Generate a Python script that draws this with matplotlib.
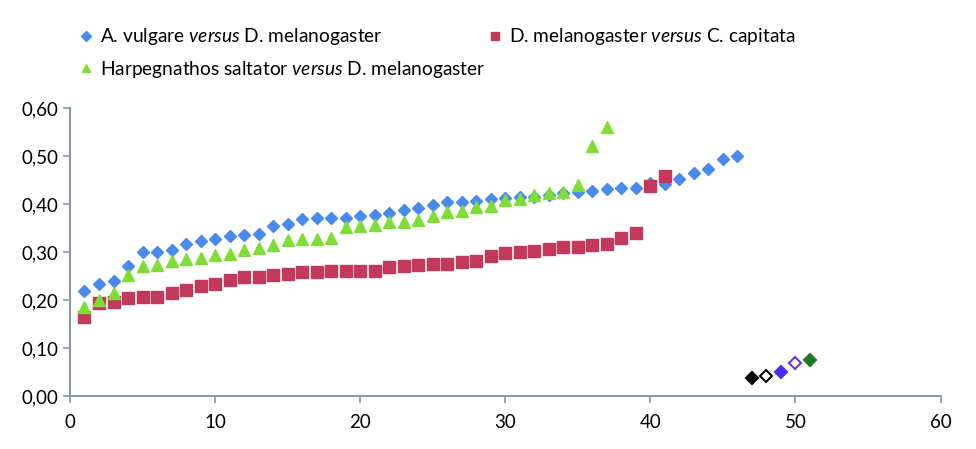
import matplotlib
matplotlib.use("Agg")
import matplotlib.pyplot as plt
from matplotlib.ticker import FuncFormatter

plt.rcParams['font.family'] = ['Lato', 'DejaVu Sans']
plt.rcParams['mathtext.fontset'] = 'custom'
plt.rcParams['mathtext.rm'] = 'Lato'
plt.rcParams['mathtext.it'] = 'Lato:italic'

# A. vulgare versus D. melanogaster
blue_y = [0.218, 0.234, 0.239, 0.270, 0.299, 0.301, 0.305, 0.317, 0.323, 0.328,
          0.333, 0.335, 0.338, 0.354, 0.359, 0.369, 0.371, 0.371, 0.371, 0.374,
          0.377, 0.381, 0.387, 0.391, 0.398, 0.404, 0.405, 0.407, 0.410, 0.413,
          0.414, 0.415, 0.418, 0.422, 0.426, 0.428, 0.431, 0.434, 0.434, 0.443,
          0.441, 0.452, 0.465, 0.472, 0.494, 0.500]
blue_x = list(range(1, len(blue_y) + 1))

# D. melanogaster versus C. capitata
red_y = [0.165, 0.193, 0.196, 0.205, 0.206, 0.206, 0.215, 0.221, 0.229, 0.234,
         0.241, 0.248, 0.248, 0.253, 0.255, 0.258, 0.258, 0.260, 0.260, 0.261,
         0.261, 0.268, 0.270, 0.272, 0.275, 0.276, 0.279, 0.281, 0.292, 0.297,
         0.299, 0.302, 0.306, 0.311, 0.311, 0.315, 0.317, 0.329, 0.340, 0.437,
         0.458]
red_x = list(range(1, len(red_y) + 1))

# Harpegnathos saltator versus D. melanogaster
green_y = [0.185, 0.201, 0.215, 0.253, 0.270, 0.272, 0.281, 0.286, 0.288, 0.293,
           0.296, 0.305, 0.309, 0.314, 0.326, 0.327, 0.327, 0.330, 0.353, 0.355,
           0.357, 0.362, 0.363, 0.367, 0.374, 0.383, 0.385, 0.393, 0.395, 0.409,
           0.411, 0.419, 0.423, 0.424, 0.440, 0.521, 0.561]
green_x = list(range(1, len(green_y) + 1))

# einzelne Punkte unten rechts
extra_x = [47, 48, 49, 50, 51]
extra_y = [0.037, 0.041, 0.050, 0.069, 0.074]
extra_face = ['#000000', 'white', '#4a2bef', 'white', '#1f7a1f']
extra_edge = ['#000000', '#000000', '#4a2bef', '#6a35e0', '#1f7a1f']

axis_col = '#8a9aa2'

fig = plt.figure(figsize=(9.76, 4.49), dpi=100)
ax = fig.add_axes([0.0717, 0.118, 0.892, 0.6415])

ax.plot(blue_x, blue_y, linestyle='none', marker='D', ms=6.5, color='#4a8aef',
        label=r'A. vulgare $\it{versus}$ D. melanogaster')
ax.plot(red_x, red_y, linestyle='none', marker='s', ms=8, color='#c3385b',
        label=r'D. melanogaster $\it{versus}$ C. capitata')
ax.plot(green_x, green_y, linestyle='none', marker='^', ms=8.5, color='#80dd37',
        label=r'Harpegnathos saltator $\it{versus}$ D. melanogaster')

for x, y, fc, ec in zip(extra_x, extra_y, extra_face, extra_edge):
    ax.plot([x], [y], linestyle='none', marker='D', ms=6, markerfacecolor=fc,
            markeredgecolor=ec, markeredgewidth=1.5)

ax.set_xlim(0, 60)
ax.set_ylim(0, 0.6)
ax.set_xticks(range(0, 61, 10))
ax.set_yticks([i / 10 for i in range(7)])
ax.yaxis.set_major_formatter(FuncFormatter(lambda v, p: f"{v:.2f}".replace('.', ',')))

for s in ['top', 'right']:
    ax.spines[s].set_visible(False)
for s in ['left', 'bottom']:
    ax.spines[s].set_color(axis_col)
    ax.spines[s].set_linewidth(1.5)
ax.tick_params(axis='both', colors=axis_col, labelcolor='black', labelsize=13.5,
               length=5, width=1.2)
ax.tick_params(axis='x', pad=8)

handles, labels = ax.get_legend_handles_labels()
order = [0, 2, 1]
leg = fig.legend([handles[i] for i in order], [labels[i] for i in order],
                 loc='upper left', bbox_to_anchor=(0.066, 0.98), ncol=2,
                 frameon=False, fontsize=13.8, handlelength=0.5,
                 handletextpad=0.45, columnspacing=0.25, labelspacing=0.62,
                 markerscale=0.75)

fig.savefig('out.png', dpi=100)
